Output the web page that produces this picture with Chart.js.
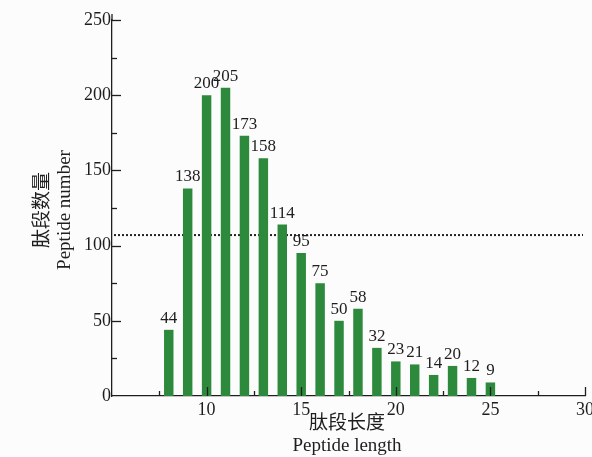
<!DOCTYPE html>
<html>
<head>
<meta charset="utf-8">
<script src="https://cdn.jsdelivr.net/npm/chart.js@4/dist/chart.umd.min.js"></script>
<style>
  html, body { margin: 0; padding: 0; background: #fcfcfc; }
  #wrap { width: 592px; height: 457px; position: relative; }
</style>
</head>
<body>
<div id="wrap"><canvas id="chart"></canvas></div>
<script>
// peptide length distribution
const lengths = [8, 9, 10, 11, 12, 13, 14, 15, 16, 17, 18, 19, 20, 21, 22, 23, 24, 25];
const counts = [44, 138, 200, 205, 173, 158, 114, 95, 75, 50, 58, 32, 23, 21, 14, 20, 12, 9];
const cutoff = 107;

const xTitle = ['肽段长度', 'Peptide length'];
const yTitle = ['肽段数量', 'Peptide number'];

const FONT = '"Liberation Serif", "Noto Sans CJK SC", serif';
const INK = '#1e1e1e';

const extras = {
  id: 'extras',
  beforeDatasetsDraw(chart) {
    const { ctx, chartArea, scales } = chart;
    const y = scales.y.getPixelForValue(cutoff);
    ctx.save();
    ctx.strokeStyle = '#222';
    ctx.lineWidth = 2;
    ctx.setLineDash([2, 2]);
    ctx.beginPath();
    ctx.moveTo(chartArea.left + 2, y);
    ctx.lineTo(chartArea.right - 2, y);
    ctx.stroke();
    ctx.restore();
  },
  afterDatasetsDraw(chart) {
    const { ctx } = chart;
    const meta = chart.getDatasetMeta(0);
    ctx.save();
    ctx.fillStyle = INK;
    ctx.font = '17px ' + FONT;
    ctx.textAlign = 'center';
    ctx.textBaseline = 'bottom';
    meta.data.forEach((bar, i) => {
      ctx.fillText(String(counts[i]), bar.x, bar.y - 3);
    });
    ctx.restore();
  },
  afterDraw(chart) {
    const { ctx, chartArea, scales } = chart;
    const { x: xs, y: ys } = scales;
    ctx.save();
    ctx.strokeStyle = INK;
    ctx.lineWidth = 1.3;
    // extend the y axis a little past the top tick
    ctx.beginPath();
    ctx.moveTo(chartArea.left, chartArea.top);
    ctx.lineTo(chartArea.left, chartArea.top - 6);
    ctx.stroke();
    // inward tick marks, majors and halfway minors
    for (let v = 25; v <= 250; v += 25) {
      const py = Math.round(ys.getPixelForValue(v)) + 0.5;
      const len = v % 50 === 0 ? 9 : 5;
      ctx.beginPath();
      ctx.moveTo(chartArea.left, py);
      ctx.lineTo(chartArea.left + len, py);
      ctx.stroke();
    }
    for (let v = 7.5; v <= 30; v += 2.5) {
      const px = Math.round(xs.getPixelForValue(v)) + 0.5;
      const len = v % 5 === 0 ? 9 : 5;
      ctx.beginPath();
      ctx.moveTo(px, chartArea.bottom);
      ctx.lineTo(px, chartArea.bottom - len);
      ctx.stroke();
    }

    // axis titles
    ctx.fillStyle = INK;
    ctx.textAlign = 'center';
    ctx.textBaseline = 'middle';
    ctx.font = '19px ' + FONT;
    ctx.fillText(xTitle[0], 347, 424);
    ctx.fillText(xTitle[1], 347, 446);
    ctx.translate(0, 210);
    ctx.rotate(-Math.PI / 2);
    ctx.fillText(yTitle[0], 0, 43);
    ctx.fillText(yTitle[1], 0, 65);
    ctx.restore();
  }
};

new Chart(document.getElementById('chart'), {
  type: 'bar',
  data: {
    datasets: [{
      data: lengths.map((len, i) => ({ x: len, y: counts[i] })),
      backgroundColor: '#2d8a3c',
      borderWidth: 0,
      barPercentage: 0.5,
      categoryPercentage: 1
    }]
  },
  options: {
    responsive: true,
    maintainAspectRatio: false,
    animation: false,
    layout: { padding: { top: 20, right: 7, left: 0, bottom: 0 } },
    plugins: {
      legend: { display: false },
      tooltip: { enabled: false }
    },
    scales: {
      x: {
        type: 'linear',
        offset: false,
        min: 5,
        max: 30,
        afterFit(scale) {
          scale.height = 61;
          // let the last label run to the canvas edge
          scale.paddingLeft = 0;
          scale.paddingRight = 0;
        },
        grid: { display: false, drawTicks: false },
        border: { display: true, color: INK, width: 1.3 },
        ticks: {
          stepSize: 5,
          padding: 3,
          color: INK,
          font: { family: FONT, size: 18 },
          callback: v => (v === 5 ? '' : v)
        }
      },
      y: {
        min: 0,
        max: 250,
        afterFit(scale) { scale.width = 112; },
        grid: { display: false, drawTicks: false },
        border: { display: true, color: INK, width: 1.3 },
        ticks: {
          stepSize: 50,
          padding: 1,
          color: INK,
          font: { family: FONT, size: 18 }
        }
      }
    }
  },
  plugins: [extras]
});
</script>
</body>
</html>
